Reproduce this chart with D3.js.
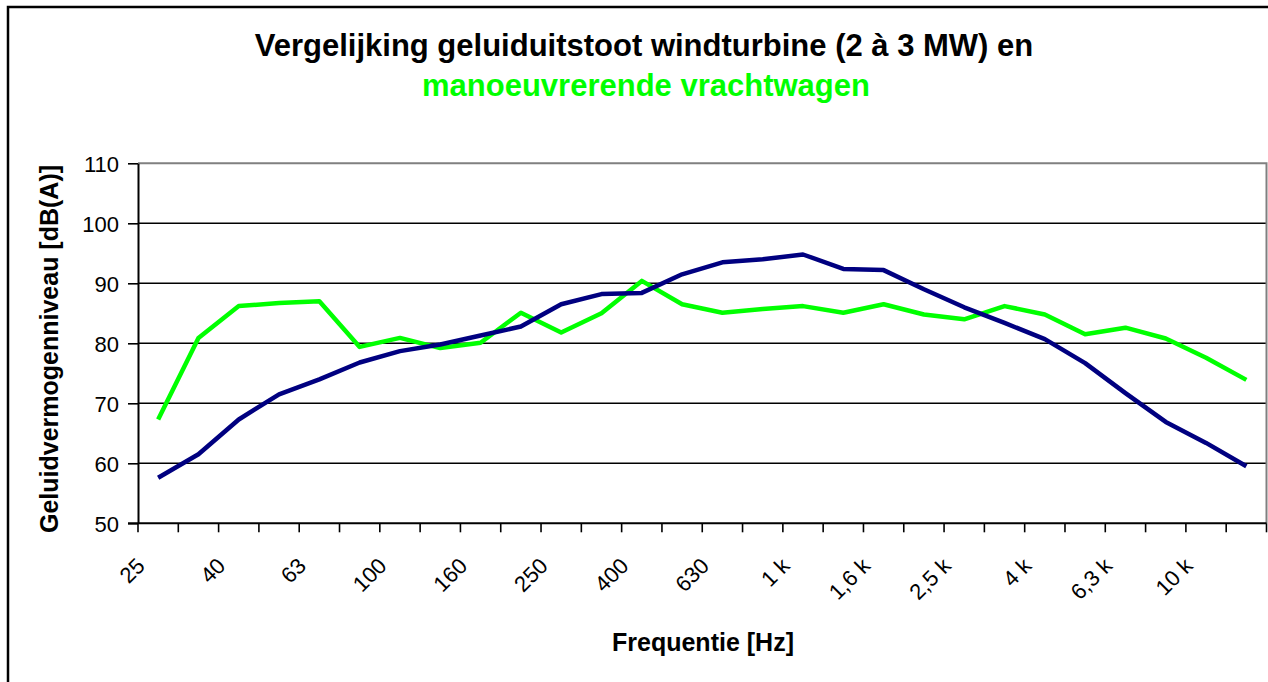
<!DOCTYPE html>
<html>
<head>
<meta charset="utf-8">
<script src="https://cdn.jsdelivr.net/npm/d3@7"></script>
<style>
  html, body { margin: 0; padding: 0; background: #fff; }
  svg { display: block; font-family: 'Liberation Sans', Arial, sans-serif; }
</style>
</head>
<body>
<div id="chart"></div>
<script>
const categories = ['25', '31,5', '40', '50', '63', '80', '100', '125', '160', '200', '250', '315', '400', '500', '630', '800',
  '1 k', '1,25 k', '1,6 k', '2 k', '2,5 k', '3,15 k', '4 k', '5 k', '6,3 k', '8 k', '10 k', '12,5 k']
const turbine = [57.6, 61.5, 67.3, 71.5, 74.0, 76.8, 78.7, 79.8, 81.3, 82.8, 86.5, 88.2, 88.4, 91.5,
  93.5, 94.0, 94.8, 92.4, 92.2, 89.0, 86.0, 83.4, 80.7, 76.7, 71.7, 66.9, 63.4, 59.5]
const truck = [67.3, 80.9, 86.2, 86.7, 87.0, 79.4, 80.9, 79.2, 80.1, 85.1, 81.8, 85.0, 90.4, 86.5,
  85.1, 85.7, 86.2, 85.1, 86.5, 84.8, 84.0, 86.2, 84.8, 81.5, 82.6, 80.8, 77.6, 73.9]
const yTicks = [50, 60, 70, 80, 90, 100, 110]
const titleLines = ['Vergelijking geluiduitstoot windturbine (2 à 3 MW) en', 'manoeuvrerende vrachtwagen']

const width = 1268
const height = 682
const marginLeft = 138
const marginRight = 1.5
const marginTop = 163.3
const marginBottom = 158.7

const svg = d3.select('#chart').append('svg')
  .attr('width', width)
  .attr('height', height)
  .attr('viewBox', [0, 0, width, height])

svg.append('rect')
  .attr('width', width).attr('height', height)
  .attr('fill', '#fff')

// outer chart frame (cropped on right / bottom)
svg.append('rect')
  .attr('x', 8).attr('y', 7)
  .attr('width', 1300).attr('height', 700)
  .attr('fill', 'none')
  .attr('stroke', '#000')
  .attr('stroke-width', 2.5)

const x = d3.scaleBand()
  .domain(categories)
  .range([marginLeft, width - marginRight])
  .paddingInner(0)
  .paddingOuter(0)

const y = d3.scaleLinear()
  .domain([50, 110])
  .range([height - marginBottom, marginTop])

const cx = d => x(d) + x.bandwidth() / 2

// gridlines
svg.append('g')
  .selectAll('line')
  .data(yTicks.filter(d => d > 50 && d < 110))
  .join('line')
  .attr('x1', marginLeft).attr('x2', width - marginRight)
  .attr('y1', d => y(d)).attr('y2', d => y(d))
  .attr('stroke', '#000')
  .attr('stroke-width', 1.6)

// plot area border (top / right, grey)
svg.append('path')
  .attr('d', `M${marginLeft},${y(110)}H${width - marginRight}V${y(50)}`)
  .attr('fill', 'none')
  .attr('stroke', '#808080')
  .attr('stroke-width', 2)

// y axis
const yAxis = d3.axisLeft(y).tickValues(yTicks).tickSize(10).tickPadding(9).tickSizeOuter(0)
svg.append('g')
  .attr('transform', `translate(${marginLeft},0)`)
  .call(yAxis)
  .attr('font-family', 'inherit')
  .attr('font-size', 22)
  .call(g => g.select('.domain').attr('stroke-width', 2))
  .call(g => g.selectAll('.tick line').attr('stroke-width', 1.6))
  .call(g => g.selectAll('.tick text').attr('fill', '#000').attr('dy', '0.36em'))

// x axis: ticks on band edges, labels on every other band
const xAxisY = y(50)
svg.append('line')
  .attr('x1', marginLeft - 10).attr('x2', width - marginRight)
  .attr('y1', xAxisY).attr('y2', xAxisY)
  .attr('stroke', '#000')
  .attr('stroke-width', 2)

svg.append('g')
  .selectAll('line')
  .data(categories.map(d => x(d)).concat([x.range()[1]]))
  .join('line')
  .attr('x1', d => d).attr('x2', d => d)
  .attr('y1', xAxisY).attr('y2', xAxisY + 9)
  .attr('stroke', '#000')
  .attr('stroke-width', 1.6)

svg.append('g')
  .selectAll('text')
  .data(categories.filter((_, i) => i % 2 === 0))
  .join('text')
  .attr('transform', d => `translate(${cx(d) - 12},${xAxisY + 44}) rotate(-45)`)
  .attr('text-anchor', 'end')
  .attr('font-size', 22)
  .text(d => d)

// series
const line = d3.line()
  .x((_, i) => cx(categories[i]))
  .y(d => y(d))

svg.append('path')
  .attr('d', line(truck))
  .attr('fill', 'none')
  .attr('stroke', '#00ff00')
  .attr('stroke-width', 4.5)
  .attr('stroke-linejoin', 'round')

svg.append('path')
  .attr('d', line(turbine))
  .attr('fill', 'none')
  .attr('stroke', '#000080')
  .attr('stroke-width', 4.5)
  .attr('stroke-linejoin', 'round')

// titles
svg.append('text')
  .attr('x', 644).attr('y', 56)
  .attr('text-anchor', 'middle')
  .attr('font-size', 31)
  .attr('font-weight', 'bold')
  .text(titleLines[0])

svg.append('text')
  .attr('x', 646).attr('y', 96)
  .attr('text-anchor', 'middle')
  .attr('font-size', 31)
  .attr('font-weight', 'bold')
  .attr('fill', '#00ff00')
  .text(titleLines[1])

svg.append('text')
  .attr('x', 703).attr('y', 651)
  .attr('text-anchor', 'middle')
  .attr('font-size', 25)
  .attr('font-weight', 'bold')
  .text('Frequentie [Hz]')

svg.append('text')
  .attr('transform', `translate(58,349) rotate(-90)`)
  .attr('text-anchor', 'middle')
  .attr('font-size', 25)
  .attr('font-weight', 'bold')
  .text('Geluidvermogenniveau [dB(A)]')
</script>
</body>
</html>
